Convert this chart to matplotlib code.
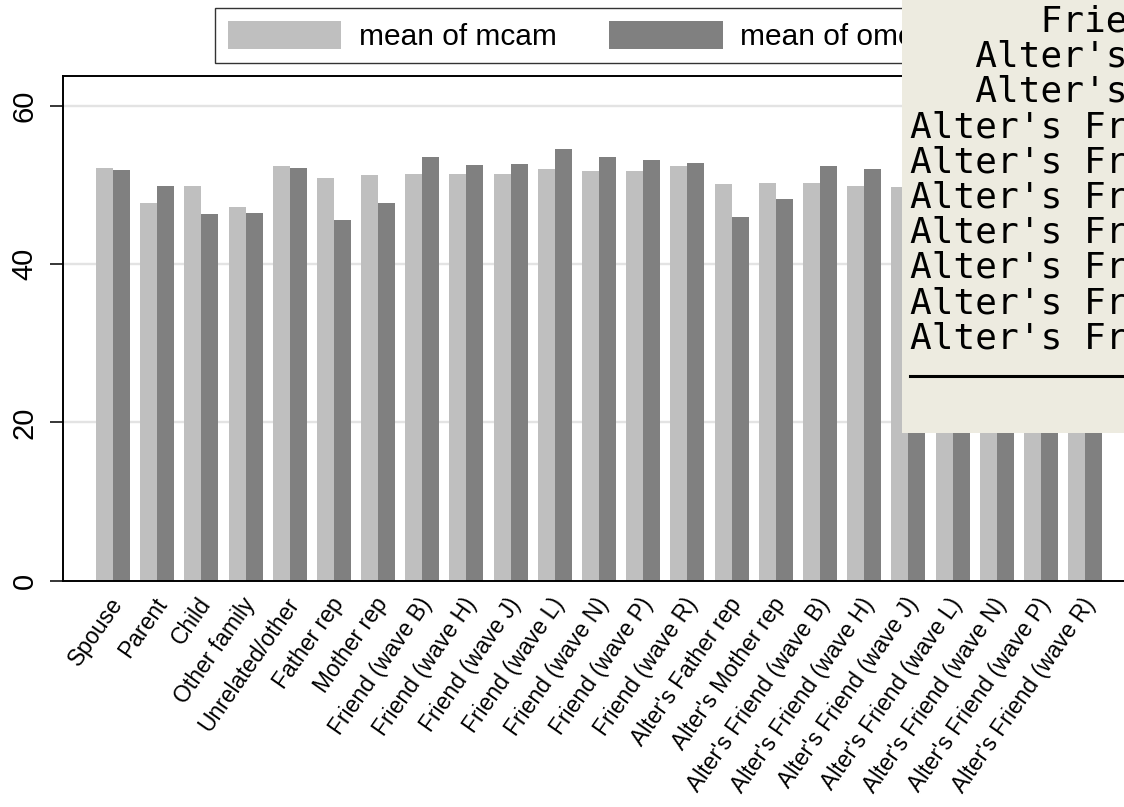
import numpy as np
import matplotlib
matplotlib.use("Agg")
import matplotlib.pyplot as plt
from matplotlib.patches import Patch, Rectangle
from matplotlib.lines import Line2D
from matplotlib.transforms import ScaledTranslation

# categories and the two means
categories = ["Spouse", "Parent", "Child", "Other family", "Unrelated/other",
              "Father rep", "Mother rep",
              "Friend (wave B)", "Friend (wave H)", "Friend (wave J)", "Friend (wave L)",
              "Friend (wave N)", "Friend (wave P)", "Friend (wave R)",
              "Alter's Father rep", "Alter's Mother rep",
              "Alter's Friend (wave B)", "Alter's Friend (wave H)", "Alter's Friend (wave J)",
              "Alter's Friend (wave L)", "Alter's Friend (wave N)", "Alter's Friend (wave P)",
              "Alter's Friend (wave R)"]
mcam = [52.2, 47.7, 49.9, 47.2, 52.4, 50.9, 51.3, 51.4, 51.4, 51.4, 52.0, 51.8,
        51.8, 52.4, 50.1, 50.2, 50.2, 49.9, 49.8, 50.0, 50.1, 49.9, 50.0]
om = [51.9, 49.9, 46.3, 46.4, 52.2, 45.6, 47.7, 53.5, 52.5, 52.6, 54.5, 53.5,
      53.1, 52.8, 45.9, 48.2, 52.4, 52.0, 51.9, 52.1, 52.0, 51.8, 52.0]
series_names = ["mean of mcam", "mean of omcam"]
yticks = [0, 20, 40, 60]

# lines of the output window pasted over the chart
window_lines = ["      Friend (wave R)",
                "   Alter's Father rep",
                "   Alter's Mother rep",
                "Alter's Friend (wave B)",
                "Alter's Friend (wave H)",
                "Alter's Friend (wave J)",
                "Alter's Friend (wave L)",
                "Alter's Friend (wave N)",
                "Alter's Friend (wave P)",
                "Alter's Friend (wave R)"]

W, H = 1124, 807
light = "#bfbfbf"
dark = "#808080"

fig = plt.figure(figsize=(W / 100, H / 100), dpi=100)
fig.patch.set_facecolor("white")
ax = fig.add_axes([62.7 / W, (H - 580.7) / H, (W - 62.7) / W, (580.7 - 75.7) / H])

x = np.arange(len(categories))
bw = 0.385
ax.bar(x - bw / 2, mcam, width=bw, color=light, linewidth=0, zorder=2)
ax.bar(x + bw / 2, om, width=bw, color=dark, linewidth=0, zorder=2)

ax.set_xlim(-1.138, 22.88)
ax.set_ylim(0, 63.8)
ax.set_yticks(yticks)
for v in yticks[1:]:
    ax.axhline(v, color="#e3e3e3", lw=1.7, zorder=1)

ax.set_xticks(x)
ax.set_xticklabels(categories, rotation=55, ha="right", va="center",
                   rotation_mode="anchor", fontsize=16.5, family="Liberation Sans")
ax.tick_params(axis="x", length=0, pad=14)
ax.tick_params(axis="y", length=9.4, width=1.1, pad=8, labelsize=21)
for lab in ax.get_yticklabels():
    lab.set_rotation(90)
    lab.set_va("center")
    lab.set_family("Liberation Sans")
shift = ScaledTranslation(5 / 100, 0, fig.dpi_scale_trans)
for lab in ax.get_xticklabels():
    lab.set_transform(lab.get_transform() + shift)

for s in ["left", "bottom", "top"]:
    ax.spines[s].set_linewidth(1.4)
    ax.spines[s].set_color("black")
ax.spines["right"].set_visible(False)

handles = [Patch(facecolor=light, edgecolor="none"), Patch(facecolor=dark, edgecolor="none")]
leg = fig.legend(handles, series_names, loc="upper left",
                 bbox_to_anchor=(215 / W, 1 - 8.3 / H), bbox_transform=fig.transFigure,
                 ncol=2, prop={"family": "Liberation Sans", "size": 21.5},
                 handlelength=3.8, handleheight=1.05, handletextpad=0.6,
                 columnspacing=1.75, borderpad=0.42, borderaxespad=0,
                 frameon=True, fancybox=False)
leg.get_frame().set_edgecolor("black")
leg.get_frame().set_linewidth(1.0)
leg.set_zorder(5)

# output window overlay
fig.add_artist(Rectangle((902 / W, 1 - 432.7 / H), (W - 902) / W, 432.7 / H,
                         transform=fig.transFigure, facecolor="#edebe0",
                         edgecolor="none", zorder=10))
for i, line in enumerate(window_lines):
    yb = 32 + 35.2 * i
    fig.text(910 / W, 1 - yb / H, line, family="DejaVu Sans Mono", fontsize=26,
             va="baseline", ha="left", color="black", zorder=11)
fig.add_artist(Line2D([910 / W, 1.0], [1 - 376 / H, 1 - 376 / H], transform=fig.transFigure,
                      color="black", lw=2.2, zorder=11))

fig.savefig("out.png", dpi=100)
